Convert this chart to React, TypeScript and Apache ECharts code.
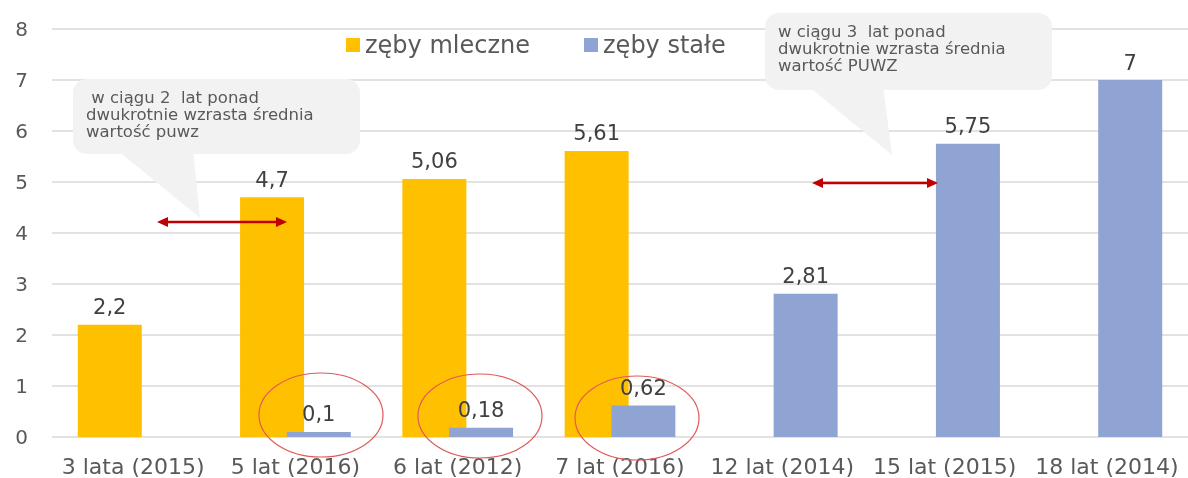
import React, { useEffect, useRef } from "react";
import * as echarts from "echarts";

const categories = [
  "3 lata (2015)",
  "5 lat (2016)",
  "6 lat (2012)",
  "7 lat (2016)",
  "12 lat (2014)",
  "15 lat (2015)",
  "18 lat (2014)",
];
const milkTeeth = [2.2, 4.7, 5.06, 5.61, null, null, null];
const permanentTeeth = [null, 0.1, 0.18, 0.62, 2.81, 5.75, 7];
const seriesNames = ["zęby mleczne", "zęby stałe"];
const callout1 = [" w ciągu 2  lat ponad", "dwukrotnie wzrasta średnia", "wartość puwz"];
const callout2 = ["w ciągu 3  lat ponad", "dwukrotnie wzrasta średnia", "wartość PUWZ"];

const YELLOW = "#FFC000";
const BLUE = "#8FA4D2";
const FONT = "'DejaVu Sans', sans-serif";
const TEXT = "#595959";
const RED = "#C00000";

function arrow(x1: number, x2: number, y: number) {
  const h = 5;
  const l = 11;
  return [
    { type: "line", z: 60, shape: { x1: x1 + 4, y1: y, x2: x2 - 4, y2: y }, style: { stroke: RED, lineWidth: 2.5 } },
    { type: "polygon", z: 60, shape: { points: [[x1, y], [x1 + l, y - h], [x1 + l, y + h]] }, style: { fill: RED } },
    { type: "polygon", z: 60, shape: { points: [[x2, y], [x2 - l, y - h], [x2 - l, y + h]] }, style: { fill: RED } },
  ];
}

function bubble(x: number, y: number, w: number, h: number, tail: number[][], lines: string[], tx: number) {
  return [
    { type: "polygon", z: 40, shape: { points: tail }, style: { fill: "#F2F2F2" } },
    { type: "rect", z: 40, shape: { x, y, width: w, height: h, r: 14 }, style: { fill: "#F2F2F2" } },
    {
      type: "text",
      z: 41,
      x: tx,
      y: y + 10,
      style: { text: lines.join("\n"), font: `16.5px ${FONT}`, fill: TEXT, lineHeight: 17 },
    },
  ];
}

function ellipse(cx: number, cy: number) {
  return {
    type: "ellipse",
    z: 100,
    shape: { cx, cy, rx: 62, ry: 42 },
    style: { fill: "none", stroke: "#E05A5A", lineWidth: 1.2 },
  };
}

export default function App() {
  const ref = useRef<HTMLDivElement>(null);
  useEffect(() => {
    if (!ref.current) return;
    const chart = echarts.init(ref.current, undefined, { renderer: "svg" });
    const fmt = (p: any) => String(p.value).replace(".", ",");
    chart.setOption({
      animation: false,
      textStyle: { fontFamily: FONT },
      grid: { left: 52, right: -6, top: 29, bottom: 41, containLabel: false },
      legend: {
        left: 341,
        top: 28,
        itemWidth: 14,
        itemHeight: 14,
        itemGap: 54,
        icon: "rect",
        textStyle: { fontSize: 24, color: TEXT, fontFamily: FONT },
        data: seriesNames,
      },
      xAxis: {
        type: "category",
        data: categories,
        axisLine: { show: false },
        axisTick: { show: false },
        axisLabel: { fontSize: 22, color: TEXT, margin: 18, interval: 0 },
      },
      yAxis: {
        type: "value",
        min: 0,
        max: 8,
        interval: 1,
        axisLabel: { fontSize: 20, color: TEXT, margin: 24 },
        splitLine: { lineStyle: { color: "#D9D9D9", width: 1.5 } },
      },
      series: [
        {
          name: seriesNames[0],
          type: "bar",
          data: milkTeeth,
          barWidth: 64,
          barGap: "-27%",
          itemStyle: { color: YELLOW },
          label: { show: true, position: "top", fontSize: 21, color: "#404040", formatter: fmt, distance: 7 },
        },
        {
          name: seriesNames[1],
          type: "bar",
          data: permanentTeeth,
          barWidth: 64,
          barGap: "-27%",
          itemStyle: { color: BLUE },
          label: { show: true, position: "top", fontSize: 21, color: "#404040", formatter: fmt, distance: 7 },
        },
      ],
      graphic: [
        ...bubble(73, 79, 287, 75, [[117, 150], [193, 150], [200, 218]], callout1, 86),
        ...bubble(765, 13, 287, 77, [[807, 85], [883, 85], [892, 155]], callout2, 778),
        ...arrow(157, 287, 222),
        ...arrow(812, 938, 183),
        ellipse(321, 415),
        ellipse(480, 416),
        ellipse(637, 418),
      ],
    });
    return () => chart.dispose();
  }, []);
  return <div ref={ref} style={{ position: "fixed", left: 0, top: 0, width: 1188, height: 478 }} />;
}
